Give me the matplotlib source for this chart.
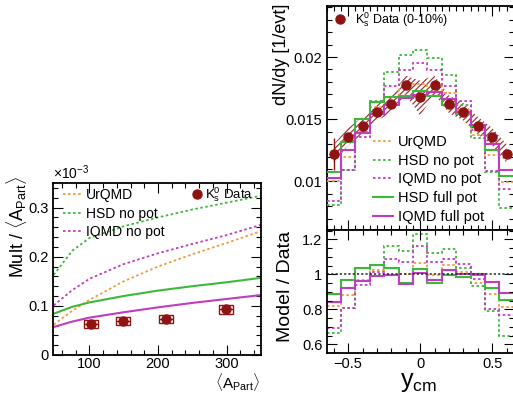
import numpy as np
import matplotlib
matplotlib.use('Agg')
import matplotlib.pyplot as plt
from matplotlib.lines import Line2D
from matplotlib.patches import Rectangle
from matplotlib.ticker import MultipleLocator

plt.rcParams['font.family'] = ['Liberation Sans', 'DejaVu Sans']
plt.rcParams['mathtext.fontset'] = 'custom'
plt.rcParams['mathtext.rm'] = 'Liberation Sans'
plt.rcParams['mathtext.it'] = 'Liberation Sans:italic'
plt.rcParams['mathtext.bf'] = 'Liberation Sans:bold'
plt.rcParams['hatch.linewidth'] = 0.9

# ---------------- data: left panel (Mult / <A_Part>, units of 1e-3) ----------------
apart_model = [48, 75, 100, 150, 200, 250, 300, 350]
urqmd_mult = [0.062, 0.090, 0.112, 0.150, 0.180, 0.205, 0.228, 0.252]
hsd_nopot_mult = [0.163, 0.212, 0.238, 0.262, 0.280, 0.296, 0.310, 0.324]
iqmd_nopot_mult = [0.101, 0.132, 0.155, 0.185, 0.207, 0.226, 0.244, 0.265]
hsd_full_mult = [0.084, 0.098, 0.107, 0.120, 0.131, 0.140, 0.148, 0.157]
iqmd_full_mult = [0.057, 0.068, 0.076, 0.087, 0.097, 0.106, 0.114, 0.122]

apart_data = [102, 149, 212, 299]
mult_data = [0.0626, 0.0693, 0.0741, 0.0929]
apart_sys = [10, 10, 10, 10]
mult_sys = [0.008, 0.008, 0.008, 0.009]

# ---------------- data: right panel (dN/dy vs y_cm) ----------------
ycm = [-0.6, -0.5, -0.4, -0.3, -0.2, -0.1, 0.0, 0.1, 0.2, 0.3, 0.4, 0.5, 0.6]
dndy_data = [0.0122, 0.0136, 0.01448, 0.0156, 0.0162, 0.01774, 0.01675,
             0.01774, 0.0162, 0.0156, 0.01448, 0.0136, 0.0122]
dndy_err = [0.0013, 0.0002, 0.0002, 0.0002, 0.0002, 0.0002, 0.0002,
            0.0002, 0.0002, 0.0002, 0.0002, 0.0002, 0.0002]
dndy_sys_lo = [0.0115, 0.0129, 0.0138, 0.0149, 0.0155, 0.0170, 0.0153,
               0.0170, 0.0155, 0.0149, 0.0138, 0.0129, 0.0115]
dndy_sys_hi = [0.0130, 0.0143, 0.0152, 0.0163, 0.0169, 0.0185, 0.0181,
               0.0185, 0.0169, 0.0163, 0.0152, 0.0143, 0.0130]

urqmd_dndy = [0.01000, 0.01197, 0.01397, 0.01599, 0.01677, 0.01778, 0.01784,
              0.01765, 0.01709, 0.01576, 0.01376, 0.01210, 0.00994]
hsd_nopot_dndy = [0.00811, 0.01095, 0.01394, 0.01647, 0.01879, 0.02013, 0.02057,
                  0.01994, 0.01852, 0.01616, 0.01347, 0.01074, 0.00787]
iqmd_nopot_dndy = [0.00844, 0.01096, 0.01358, 0.01576, 0.01766, 0.01895, 0.01948,
                   0.01895, 0.01766, 0.01650, 0.01412, 0.01088, 0.00939]
hsd_full_dndy = [0.01080, 0.01319, 0.01503, 0.01641, 0.01682, 0.01689, 0.01729,
                 0.01685, 0.01614, 0.01540, 0.01442, 0.01254, 0.01041]
iqmd_full_dndy = [0.01030, 0.01251, 0.01390, 0.01544, 0.01617, 0.01671, 0.01692,
                  0.01717, 0.01661, 0.01560, 0.01454, 0.01299, 0.01092]

# ---------------- styles ----------------
C_DATA = '#8e1414'
C_OR = '#f29a3e'
C_GR = '#3cb83c'
C_MA = '#c03cc0'
DOT = (0, (1.4, 1.4))

W, H = 513, 394
fig = plt.figure(figsize=(W / 100, H / 100), dpi=100)


def box(l, t, r, b):
    return [l / W, 1 - b / H, (r - l) / W, (b - t) / H]


def style_ax(ax, fs=10.5):
    ax.tick_params(which='both', direction='in', top=True, right=True, labelsize=fs, width=0.8)
    ax.tick_params(which='major', length=7, pad=3)
    ax.tick_params(which='minor', length=3.5)
    for s in ax.spines.values():
        s.set_linewidth(1.3)


models = [
    ('UrQMD', C_OR, DOT, 1.3),
    ('HSD no pot', C_GR, DOT, 1.3),
    ('IQMD no pot', C_MA, DOT, 1.3),
    ('HSD full pot', C_GR, '-', 1.5),
    ('IQMD full pot', C_MA, '-', 1.5),
]

# ================= left panel =================
axL = fig.add_axes(box(53, 183, 261, 355))
style_ax(axL)
axL.tick_params(axis='x', which='major', pad=1.5)
mults = [urqmd_mult, hsd_nopot_mult, iqmd_nopot_mult, hsd_full_mult, iqmd_full_mult]
for (lab, c, ls, lw), m in zip(models, mults):
    axL.plot(apart_model, m, color=c, ls=ls, lw=lw)
for x, y, sx, sy in zip(apart_data, mult_data, apart_sys, mult_sys):
    axL.add_patch(Rectangle((x - sx, y - sy), 2 * sx, 2 * sy, fill=False,
                            edgecolor=C_DATA, lw=1.0, zorder=4))
axL.errorbar(apart_data, mult_data, xerr=apart_sys, fmt='o', color=C_DATA,
             ms=6.5, elinewidth=1.0, capsize=0, zorder=5)
axL.set_xlim(47, 350)
axL.set_ylim(0, 0.35)
axL.set_xticks([100, 200, 300])
axL.set_yticks([0, 0.1, 0.2, 0.3])
axL.set_yticklabels(['0', '0.1', '0.2', '0.3'])
axL.xaxis.set_minor_locator(MultipleLocator(20))
axL.yaxis.set_minor_locator(MultipleLocator(0.02))

hL = [Line2D([], [], color=c, ls=ls, lw=lw) for (lab, c, ls, lw) in models[:3]]
legL = axL.legend(hL, [m[0] for m in models[:3]], loc='upper left',
                  bbox_to_anchor=(63 / W, 1 - 188 / H), bbox_transform=fig.transFigure,
                  frameon=False, fontsize=10, borderpad=0, borderaxespad=0,
                  handlelength=1.37, handletextpad=0.3, labelspacing=0.33)
axL.add_artist(legL)
hD = Line2D([], [], color=C_DATA, marker='o', ms=6.5, ls='none')
legLD = axL.legend([hD], [r'K$^{0}_{\rm s}$ Data'], loc='center left',
                   bbox_to_anchor=(192 / W, 1 - 195 / H), bbox_transform=fig.transFigure,
                   frameon=False, fontsize=9.5, borderpad=0, borderaxespad=0,
                   handlelength=0.7, handletextpad=0.25)

fig.text(53 / W, 1 - 182 / H, r'$\times$10$^{-3}$', fontsize=10, ha='left', va='bottom')
fig.text(17 / W, 1 - 176 / H, r'Mult / $\langle$A$_{\rm Part}\rangle$', fontsize=13,
         rotation=90, ha='center', va='top')
fig.text(260 / W, 1 - 393.5 / H, r'$\langle$A$_{\rm Part}\rangle$', fontsize=11,
         ha='right', va='bottom')

# ================= right top panel =================
edges = np.append(np.array(ycm) - 0.05, ycm[-1] + 0.05)
axT = fig.add_axes(box(326.5, 6, 513.7, 230))
style_ax(axT)
axT.fill_between(ycm, dndy_sys_lo, dndy_sys_hi, facecolor='none', edgecolor=C_DATA,
                 hatch='//////', linewidth=0, alpha=0.85, zorder=1)
dndys = [urqmd_dndy, hsd_nopot_dndy, iqmd_nopot_dndy, hsd_full_dndy, iqmd_full_dndy]
for (lab, c, ls, lw), m in zip(models, dndys):
    axT.stairs(m, edges, baseline=None, color=c, ls=ls, lw=lw, zorder=3)
axT.errorbar(ycm, dndy_data, yerr=dndy_err, fmt='o', color=C_DATA, ms=6.5,
             elinewidth=1.0, capsize=0, zorder=5)
axT.set_xlim(-0.65, 0.65)
axT.set_ylim(0.0061, 0.0241)
axT.set_yticks([0.01, 0.015, 0.02])
axT.set_yticklabels(['0.01', '0.015', '0.02'])
axT.yaxis.set_minor_locator(MultipleLocator(0.001))
axT.xaxis.set_major_locator(MultipleLocator(0.5))
axT.xaxis.set_minor_locator(MultipleLocator(0.05))
axT.tick_params(labelbottom=False)

hM = [Line2D([], [], color=c, ls=ls, lw=lw) for (lab, c, ls, lw) in models]
legT = axT.legend(hM, [m[0] for m in models], loc='upper left',
                  bbox_to_anchor=(373 / W, 1 - 135 / H), bbox_transform=fig.transFigure,
                  frameon=False, fontsize=10.5, borderpad=0, borderaxespad=0,
                  handlelength=1.35, handletextpad=0.35, labelspacing=0.32)
axT.add_artist(legT)
legTD = axT.legend([hD], [r'K$^{0}_{\rm s}$ Data (0-10%)'], loc='center left',
                   bbox_to_anchor=(334 / W, 1 - 20 / H), bbox_transform=fig.transFigure,
                   frameon=False, fontsize=9, borderpad=0, borderaxespad=0,
                   handlelength=1.0, handletextpad=0.7)

fig.text(281 / W, 1 - 4 / H, 'dN/dy [1/evt]', fontsize=13, rotation=90,
         ha='center', va='top')

# ================= ratio panel =================
axR = fig.add_axes(box(326.5, 230, 513.7, 352.7))
style_ax(axR)
data_arr = np.array(dndy_data)
for (lab, c, ls, lw), m in zip(models, dndys):
    axR.stairs(np.array(m) / data_arr, edges, baseline=None, color=c, ls=ls, lw=lw)
axR.axhline(1.0, color='#222222', ls=DOT, lw=1.1)
axR.set_xlim(-0.65, 0.65)
axR.set_ylim(0.552, 1.253)
axR.set_yticks([0.6, 0.8, 1.0, 1.2])
axR.set_yticklabels(['0.6', '0.8', '1', '1.2'])
axR.set_xticks([-0.5, 0, 0.5])
axR.set_xticklabels(['\u22120.5', '0', '0.5'])
axR.xaxis.set_minor_locator(MultipleLocator(0.1))
axR.yaxis.set_minor_locator(MultipleLocator(0.05))

fig.text(285 / W, 1 - 231 / H, 'Model / Data', fontsize=14, rotation=90,
         ha='center', va='top')
fig.text(437 / W, 1 - 394 / H, r'y$_{\rm cm}$', fontsize=18, ha='right', va='bottom')

fig.savefig('out.png', dpi=100)
